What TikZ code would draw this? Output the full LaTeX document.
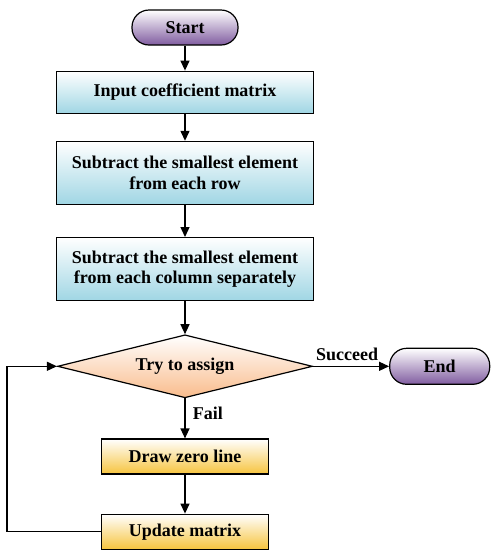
\documentclass[tikz,border=0pt]{standalone}
\usepackage{fontspec}
\setmainfont{Liberation Serif}
\usetikzlibrary{positioning,arrows.meta,shapes.geometric}
\definecolor{termpurple}{RGB}{128,92,160}
\definecolor{boxblue}{RGB}{160,214,228}
\definecolor{decorange}{RGB}{249,188,140}
\definecolor{boxgold}{RGB}{246,196,62}

\tikzset{
  every node/.style={font=\fontsize{18pt}{20.5pt}\selectfont\bfseries},
  terminal/.style={draw,line width=1.2pt,rounded corners=17pt,minimum width=106pt,minimum height=35pt,top color=white,bottom color=termpurple},
  stepbox/.style={draw,line width=1.2pt,align=center,minimum width=257pt,minimum height=42pt,top color=white,bottom color=boxblue},
  decision/.style={draw,line width=1.2pt,diamond,aspect=4,inner sep=0pt,minimum width=255pt,minimum height=63pt,top color=white,bottom color=decorange},
  loopbox/.style={draw,line width=1.2pt,minimum width=167pt,minimum height=35pt,top color=white,bottom color=boxgold},
  flow/.style={->,line width=1.3pt}
}

\begin{document}
\begin{tikzpicture}[>={Triangle[length=10pt,width=9pt]}]
\useasboundingbox (0pt,0pt) rectangle (500pt,-550pt);
\node[terminal] (start) at (185pt,-27.5pt) {Start};
\node[stepbox] (input) [below=25pt of start] {Input coefficient matrix};
\node[stepbox,minimum height=63pt] (rowsub) [below=27pt of input] {Subtract the smallest element\\from each row};
\node[stepbox,minimum height=63pt] (colsub) [below=32pt of rowsub] {Subtract the smallest element\\from each column separately};
\node[decision] (assign) [below=33pt of colsub] {Try to assign};
\node[terminal,minimum width=100pt,minimum height=36pt] (finish) [right=76pt of assign] {End};
\node[loopbox] (zeroline) [below=40pt of assign] {Draw zero line};
\node[loopbox] (update) [below=39pt of zeroline] {Update matrix};

\draw[flow] (start) -- (input);
\draw[flow] (input) -- (rowsub);
\draw[flow] (rowsub) -- (colsub);
\draw[flow] (colsub) -- (assign);
\draw[flow] (assign) -- (finish) node[midway,above=2pt,xshift=-4pt] (succ) {Succeed};
\draw[flow] (assign) -- (zeroline) node[midway,right=4pt,yshift=5pt] (fail) {Fail};
\draw[flow] (zeroline) -- (update);
\draw[flow] (update.west) -- ++(-94pt,0) |- (assign.west);
\end{tikzpicture}
\end{document}
